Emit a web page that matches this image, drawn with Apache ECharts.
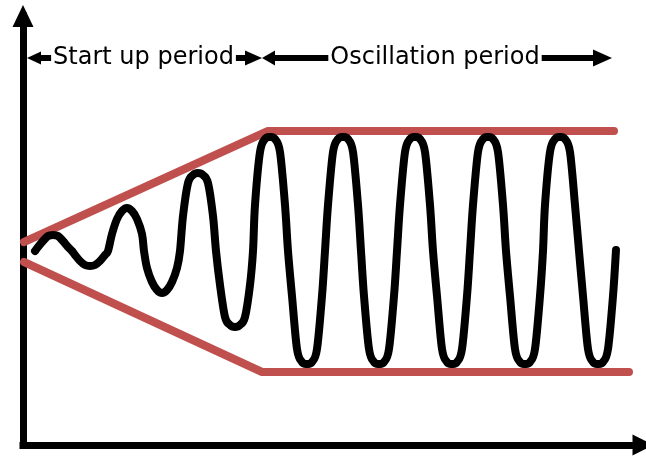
<!DOCTYPE html>
<html><head><meta charset="utf-8">
<script src="https://cdn.jsdelivr.net/npm/echarts@6/dist/echarts.min.js"></script>
<style>html,body{margin:0;padding:0;background:#fff}#c{width:646px;height:456px}</style>
</head><body><div id="c"></div>
<script>
// Oscillating signal: points
const curveX = [12,15,20,25,30,35,40,45,49,
  52,57,62,67,72,77,82,85,
  89,94,99,104,109,114,119,121,
  124,129,134,139,144,149,154,157,
  160,165,170,175,180,185,190,193,
  197,202,207,212,217,222,227,230,
  232,237,242,247,252,257,262,265,
  269,274,279,284,289,294,299,302,
  305,310,315,320,325,330,335,338,
  341,346,351,356,361,366,371,374,
  377,382,387,392,397,402,407,410,
  414,419,424,429,434,439,444,447,
  450,455,460,465,470,475,480,483,
  487,492,497,502,507,512,517,520,
  522,527,532,537,542,547,552,556,
  560,565,570,575,580,585,590,593];
const curveY = [194,198,204,209,210,209,204,198,194,
  190,184,180,179,180,184,190,194,
  211,226,234,237,234,226,211,194,
  177,163,155,152,155,163,177,194,
  229,262,270,272,270,262,229,194,
  160,128,120,118,120,128,160,194,
  240,293,306,308,306,293,240,194,
  149,96,83,81,83,96,149,194,
  240,293,306,308,306,293,240,194,
  149,96,83,81,83,96,149,194,
  240,293,306,308,306,293,240,194,
  149,96,83,81,83,96,149,194,
  240,293,306,308,306,293,240,194,
  149,96,83,81,83,96,149,194,
  240,293,306,308,306,293,240,194,
  149,96,83,81,83,96,149,195];
// Envelope lines
const upperX = [1,245,591];
const upperY = [203,314,314];
const lowerX = [1,239,606];
const lowerY = [183,73,73];
// Period annotations
const periodLabels = ['Start up period','Oscillation period'];
const periodFrom = [11,245.5];
const periodTo = [230.5,579.5];
const periodTextX = [120.5,412];
const periodY = 387;

const zip = (xs, ys) => xs.map((x, i) => [x, ys[i]]);
const red = '#c0504d';

// smooth curve through screen points (Catmull-Rom as cubic Bezier segments)
function smoothPath(pts) {
  const n = pts.length;
  const P = i => pts[Math.max(0, Math.min(n - 1, i))];
  let d = 'M' + pts[0][0] + ' ' + pts[0][1];
  for (let i = 0; i < n - 1; i++) {
    const p0 = P(i - 1), p1 = P(i), p2 = P(i + 1), p3 = P(i + 2);
    const c1x = p1[0] + (p2[0] - p0[0]) / 6, c1y = p1[1] + (p2[1] - p0[1]) / 6;
    const c2x = p2[0] - (p3[0] - p1[0]) / 6, c2y = p2[1] - (p3[1] - p1[1]) / 6;
    d += ' C' + c1x + ' ' + c1y + ' ' + c2x + ' ' + c2y + ' ' + p2[0] + ' ' + p2[1];
  }
  return d;
}

const chart = echarts.init(document.getElementById('c'), null, {renderer: 'canvas'});
chart.setOption({
  animation: false,
  backgroundColor: '#fff',
  grid: {left: 23, right: 3, top: 16, bottom: 11},
  xAxis: {
    type: 'value', min: 0, max: 620,
    axisLine: {show: true, symbol: ['none','triangle'], symbolSize: [21, 21],
      lineStyle: {color: '#000', width: 7, cap: 'square'}},
    axisTick: {show: false}, axisLabel: {show: false}, splitLine: {show: false}
  },
  yAxis: {
    type: 'value', min: 0, max: 429,
    axisLine: {show: true, symbol: ['none','triangle'], symbolSize: [21, 22],
      lineStyle: {color: '#000', width: 7, cap: 'square'}},
    axisTick: {show: false}, axisLabel: {show: false}, splitLine: {show: false}
  },
  series: [
    {
      type: 'line', data: zip(upperX, upperY), symbol: 'none', z: 3,
      lineStyle: {color: red, width: 8, cap: 'round', join: 'round'},
      markLine: {
        silent: true, animation: false,
        label: {show: false},
        lineStyle: {color: '#000', width: 6, type: 'solid', opacity: 1},
        data: [
          [{coord: [periodFrom[0], periodY], symbol: 'triangle', symbolSize: [13, 14]},
           {coord: [periodTo[0], periodY], symbol: 'triangle', symbolSize: [15, 17]}],
          [{coord: [periodFrom[1], periodY], symbol: 'triangle', symbolSize: [15, 13]},
           {coord: [periodTo[1], periodY], symbol: 'triangle', symbolSize: [17, 19]}]
        ]
      }
    },
    {
      type: 'line', data: zip(lowerX, lowerY), symbol: 'none', z: 3,
      lineStyle: {color: red, width: 8, cap: 'round', join: 'round'}
    },
    {
      type: 'custom', z: 4, clip: false,
      data: zip(curveX, curveY),
      encode: {x: 0, y: 1},
      renderItem: function (params, api) {
        if (params.dataIndex !== 0) return null;
        const pts = curveX.map((x, i) => api.coord([x, curveY[i]]));
        return {
          type: 'path',
          shape: {pathData: smoothPath(pts)},
          style: {stroke: '#000', lineWidth: 8, fill: null, lineCap: 'round', lineJoin: 'round'}
        };
      }
    },
    {
      type: 'scatter', z: 10, symbolSize: 0,
      itemStyle: {opacity: 1},
      data: periodLabels.map((n, i) => ({name: n, value: [periodTextX[i], periodY]})),
      label: {
        show: true, position: 'inside', formatter: p => p.name, opacity: 1,
        fontFamily: 'DejaVu Sans', fontSize: 24, color: '#000',
        backgroundColor: '#fff', padding: [0, 2]
      }
    }
  ]
});
</script>
</body></html>
